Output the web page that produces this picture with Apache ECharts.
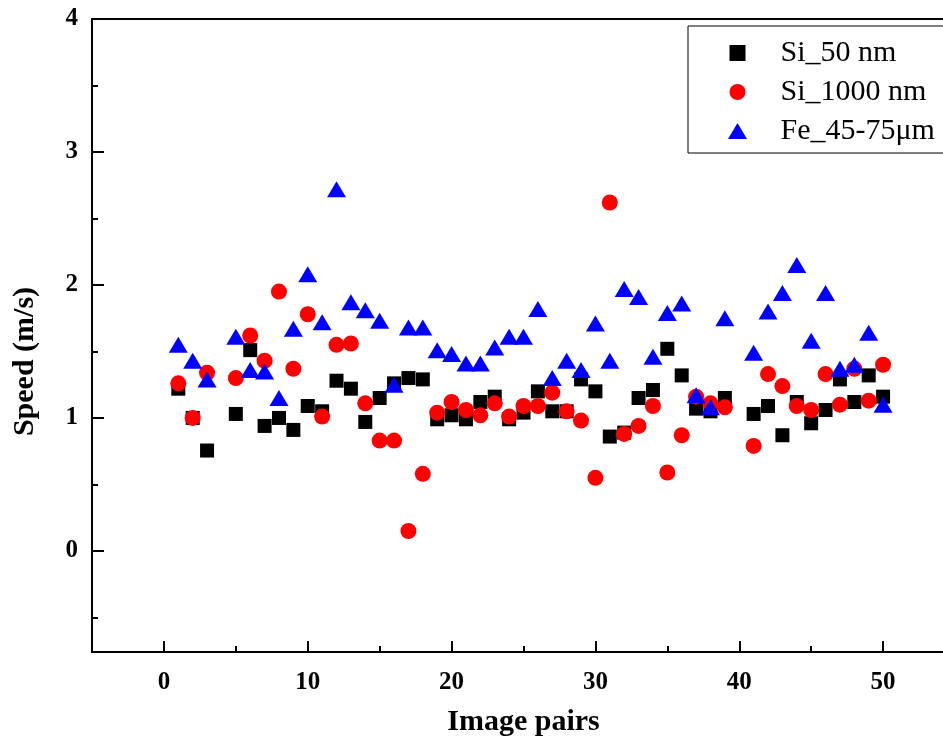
<!DOCTYPE html>
<html>
<head>
<meta charset="utf-8">
<script src="https://cdn.jsdelivr.net/npm/echarts@6/dist/echarts.min.js"></script>
<style>html,body{margin:0;padding:0;background:#fff}#c{width:943px;height:742px}</style>
</head>
<body>
<div id="c"></div>
<script>
const imagePairs = [1,2,3,5,6,7,8,9,10,11,12,13,14,15,16,17,18,19,20,21,22,23,24,25,26,27,28,29,30,31,32,33,34,35,36,37,38,39,41,42,43,44,45,46,47,48,49,50];
const si50 = [1.22,1.00,0.755,1.03,1.51,0.94,1.00,0.91,1.09,1.05,1.28,1.22,0.97,1.15,1.26,1.30,1.29,0.99,1.02,0.99,1.12,1.16,0.99,1.04,1.20,1.05,1.05,1.29,1.20,0.86,0.89,1.15,1.21,1.52,1.32,1.07,1.05,1.15,1.03,1.09,0.87,1.12,0.96,1.06,1.29,1.12,1.32,1.16];
const si1000 = [1.26,1.00,1.34,1.30,1.62,1.43,1.95,1.37,1.78,1.01,1.55,1.56,1.11,0.83,0.83,0.15,0.58,1.04,1.12,1.06,1.02,1.11,1.01,1.09,1.09,1.19,1.05,0.98,0.55,2.62,0.88,0.94,1.09,0.59,0.87,1.16,1.11,1.08,0.79,1.33,1.24,1.09,1.06,1.33,1.10,1.37,1.13,1.40];
const fe = [1.55,1.43,1.29,1.61,1.36,1.35,1.15,1.67,2.08,1.72,2.72,1.87,1.81,1.73,1.25,1.68,1.68,1.51,1.48,1.41,1.41,1.53,1.61,1.61,1.82,1.30,1.43,1.36,1.71,1.43,1.97,1.91,1.46,1.79,1.86,1.17,1.08,1.75,1.49,1.80,1.94,2.15,1.58,1.94,1.37,1.40,1.64,1.10];
const seriesNames = ['Si_50 nm','Si_1000 nm','Fe_45-75\u03bcm'];
const xMajor = [0,10,20,30,40,50];
const xMinor = [5,15,25,35,45];
const yMajor = [0,1,2,3,4];
const yMinor = [-0.5,0.5,1.5,2.5,3.5];

const pairs = (ys) => imagePairs.map((x, i) => [x, ys[i]]);
const font = 'Liberation Serif';
const chart = echarts.init(document.getElementById('c'), null, {renderer: 'canvas'});
chart.setOption({
  animation: false,
  backgroundColor: '#fff',
  grid: {left: 92, top: 19, right: -12, bottom: 90, show: true, borderColor: '#000', borderWidth: 2, backgroundColor: 'transparent', outerBoundsMode: 'none'},
  legend: {
    left: 688, top: 26, orient: 'vertical',
    padding: [12, 60, 7, 40],
    itemWidth: 76, itemHeight: 16, itemGap: 9,
    borderColor: '#000', borderWidth: 1,
    textStyle: {fontFamily: font, fontSize: 30, color: '#000', lineHeight: 30},
    data: [
      {name: seriesNames[0], icon: 'path://M0,0H14V14H0Z'},
      {name: seriesNames[1], icon: 'circle'},
      {name: seriesNames[2], icon: 'path://M9.5,0L19,16L0,16Z'}
    ]
  },
  xAxis: [
    {type: 'value', min: -5, max: 55, position: 'bottom',
     axisLine: {show: true, onZero: false, lineStyle: {color: '#000', width: 2}},
     axisTick: {show: true, inside: true, length: 11, customValues: xMajor, lineStyle: {color: '#000', width: 2}},
     axisLabel: {customValues: xMajor, fontFamily: font, fontWeight: 'bold', fontSize: 25, color: '#000', margin: 18},
     splitLine: {show: false},
     name: 'Image pairs', nameLocation: 'middle', nameGap: 55,
     nameTextStyle: {fontFamily: font, fontWeight: 'bold', fontSize: 30, color: '#000'}},
    {type: 'value', min: -5, max: 55, position: 'top', offset: -633,
     axisLine: {show: false, onZero: false},
     axisTick: {show: true, inside: false, length: 6, customValues: xMinor, lineStyle: {color: '#000', width: 2}},
     axisLabel: {show: false}, splitLine: {show: false}}
  ],
  yAxis: [
    {type: 'value', min: -0.76, max: 4, position: 'left',
     axisLine: {show: true, onZero: false, lineStyle: {color: '#000', width: 2}},
     axisTick: {show: true, inside: true, length: 12, customValues: yMajor, lineStyle: {color: '#000', width: 2}},
     axisLabel: {customValues: yMajor, fontFamily: font, fontWeight: 'bold', fontSize: 25, color: '#000', margin: 14},
     splitLine: {show: false},
     name: 'Speed (m/s)', nameLocation: 'middle', nameGap: 52,
     nameTextStyle: {fontFamily: font, fontWeight: 'bold', fontSize: 30, color: '#000', padding: [0, 52, 0, 0]}},
    {type: 'value', min: -0.76, max: 4, position: 'right', offset: -863,
     axisLine: {show: false, onZero: false},
     axisTick: {show: true, inside: false, length: 6, customValues: yMinor, lineStyle: {color: '#000', width: 2}},
     axisLabel: {show: false}, splitLine: {show: false}}
  ],
  series: [
    {name: seriesNames[0], type: 'scatter', symbol: 'rect', symbolSize: 14, itemStyle: {color: '#000', opacity: 1}, data: pairs(si50)},
    {name: seriesNames[1], type: 'scatter', symbol: 'circle', symbolSize: 16, itemStyle: {color: '#ff0000', opacity: 1}, data: pairs(si1000)},
    {name: seriesNames[2], type: 'scatter', symbol: 'triangle', symbolSize: [19, 16], itemStyle: {color: '#0000ff', opacity: 1}, data: pairs(fe)}
  ]
});
</script>
</body>
</html>
